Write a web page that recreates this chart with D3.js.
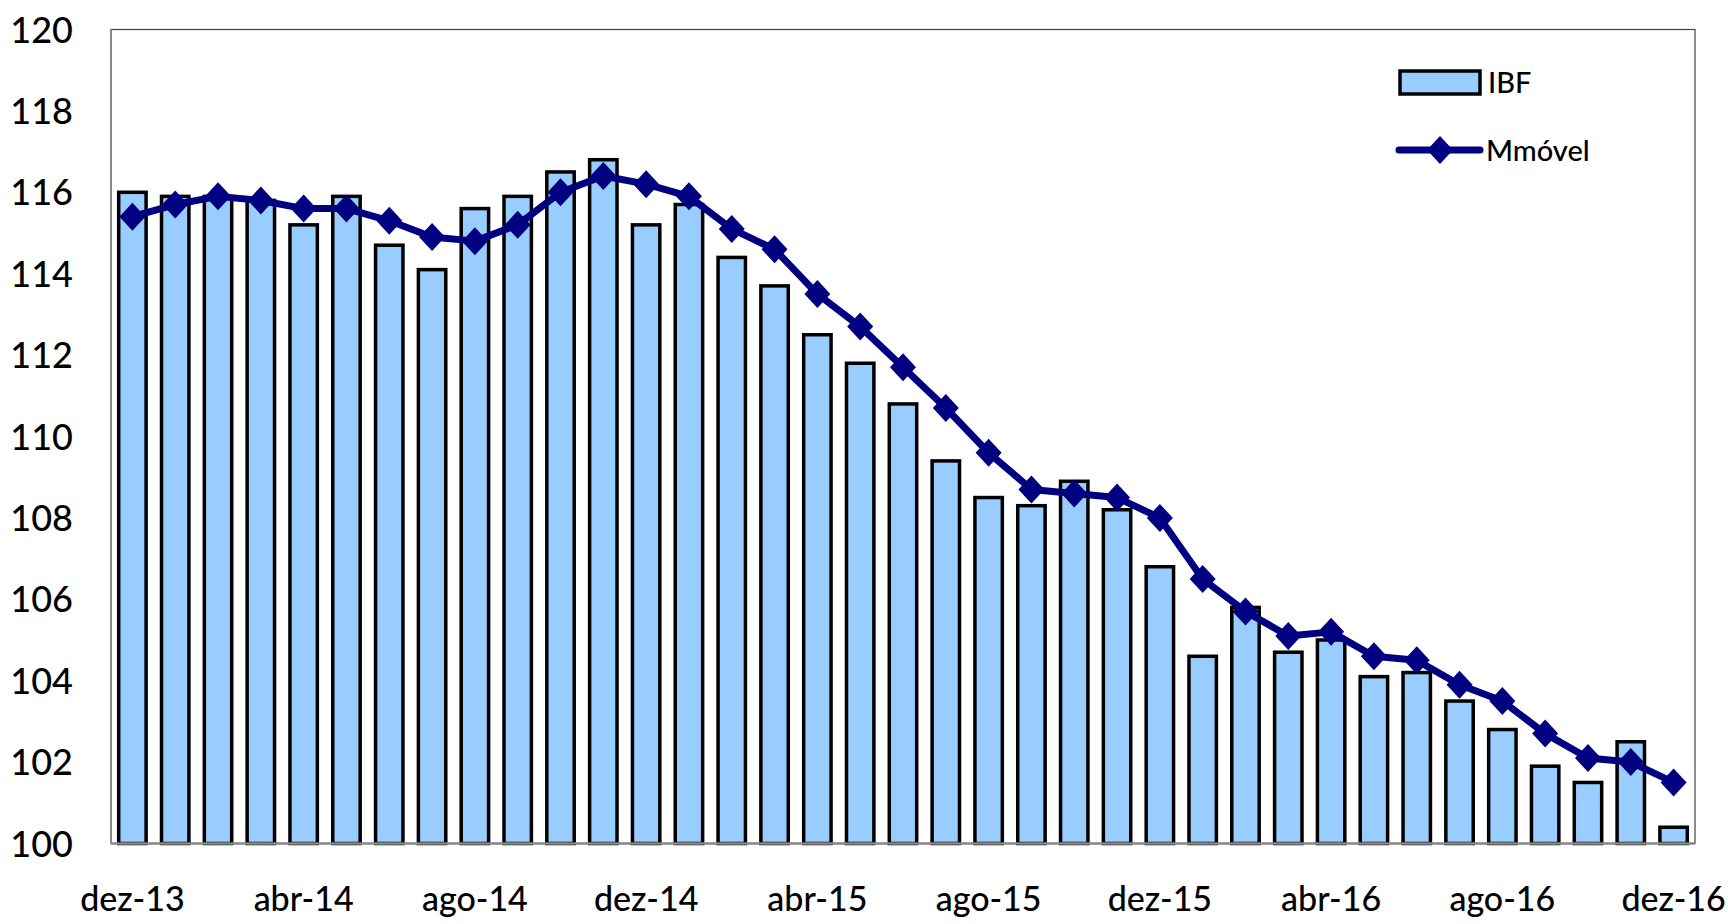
<!DOCTYPE html>
<html><head><meta charset="utf-8">
<script src="https://cdn.jsdelivr.net/npm/d3@7"></script>
<style>html,body{margin:0;padding:0;background:#fff;} svg{display:block;}</style>
</head><body>
<svg id="chart" width="1728" height="924"></svg>
<script>
const categories = ["dez-13","jan-14","fev-14","mar-14","abr-14","mai-14","jun-14","jul-14","ago-14","set-14","out-14","nov-14",
"dez-14","jan-15","fev-15","mar-15","abr-15","mai-15","jun-15","jul-15","ago-15","set-15","out-15","nov-15",
"dez-15","jan-16","fev-16","mar-16","abr-16","mai-16","jun-16","jul-16","ago-16","set-16","out-16","nov-16","dez-16"];
const ibf = [116.0,115.9,115.9,115.8,115.2,115.9,114.7,114.1,115.6,115.9,116.5,116.8,
115.2,115.7,114.4,113.7,112.5,111.8,110.8,109.4,108.5,108.3,108.9,108.2,
106.8,104.6,105.8,104.7,105.0,104.1,104.2,103.5,102.8,101.9,101.5,102.5,100.4];
const mmovel = [115.4,115.7,115.9,115.8,115.6,115.6,115.3,114.9,114.8,115.2,116.0,116.4,
116.2,115.9,115.1,114.6,113.5,112.7,111.7,110.7,109.6,108.7,108.6,108.5,
108.0,106.5,105.7,105.1,105.2,104.6,104.5,103.9,103.5,102.7,102.1,102.0,101.5];
const yTicks = [100,102,104,106,108,110,112,114,116,118,120];
const xTickLabels = ["dez-13","abr-14","ago-14","dez-14","abr-15","ago-15","dez-15","abr-16","ago-16","dez-16"];
const seriesNames = ["IBF","Mmóvel"];

const svg = d3.select("#chart");
const font = "Lato, 'Open Sans', sans-serif";
const L = 111, R = 1695, T = 29.5, B = 843.5;

const x = d3.scaleBand().domain(categories).range([L, R]).paddingInner(0.36).paddingOuter(0.18);
const y = d3.scaleLinear().domain([100, 120]).range([B, T]);

// plot border
svg.append("rect").attr("x", L).attr("y", T).attr("width", R - L).attr("height", B - T)
  .attr("fill", "none").attr("stroke", "#444").attr("stroke-width", 1.2);

// bars
svg.append("g").selectAll("rect").data(ibf).join("rect")
  .attr("x", (d, i) => x(categories[i]))
  .attr("y", d => y(d))
  .attr("width", x.bandwidth())
  .attr("height", d => y(100) - y(d))
  .attr("fill", "#99CCFF").attr("stroke", "#000").attr("stroke-width", 3.5);

// axes lines
svg.append("line").attr("x1", L).attr("x2", R).attr("y1", B).attr("y2", B).attr("stroke", "#888").attr("stroke-width", 2.5);
svg.append("line").attr("x1", L).attr("x2", L).attr("y1", T).attr("y2", B).attr("stroke", "#888").attr("stroke-width", 2);

// y axis labels
const yAxis = d3.axisLeft(y).tickValues(yTicks).tickSize(0).tickPadding(0);
const gy = svg.append("g").attr("transform", `translate(${L - 38},0)`).call(yAxis);
gy.select(".domain").remove();
gy.selectAll("text").attr("font-family", font).attr("font-size", 36).attr("font-weight", 500).attr("fill", "#000").attr("dy", "0.35em");

// x axis labels
const xAxis = d3.axisBottom(x).tickValues(xTickLabels).tickSize(0).tickPadding(0);
const gx = svg.append("g").attr("transform", `translate(0,${B + 43})`).call(xAxis);
gx.select(".domain").remove();
gx.selectAll("text").attr("font-family", font).attr("font-size", 34).attr("font-weight", 500).attr("fill", "#000").attr("dy", "0.71em");

// line
const cx = (i) => x(categories[i]) + x.bandwidth() / 2;
const line = d3.line().x((d, i) => cx(i)).y(d => y(d));
svg.append("path").datum(mmovel).attr("d", line)
  .attr("fill", "none").attr("stroke", "#000080").attr("stroke-width", 7).attr("stroke-linejoin", "round");
const diamond = "M0,-14L13,0L0,14L-13,0Z";
svg.append("g").selectAll("path").data(mmovel).join("path")
  .attr("d", diamond)
  .attr("transform", (d, i) => `translate(${cx(i)},${y(d)})`)
  .attr("fill", "#000080");

// legend
const lg = svg.append("g");
lg.append("rect").attr("x", 1400).attr("y", 71).attr("width", 80).attr("height", 23)
  .attr("fill", "#99CCFF").attr("stroke", "#000").attr("stroke-width", 3.5);
lg.append("text").attr("x", 1488).attr("y", 93).text(seriesNames[0])
  .attr("font-family", font).attr("font-size", 29).attr("font-weight", 500).attr("fill", "#000");
lg.append("line").attr("x1", 1399).attr("x2", 1480).attr("y1", 150).attr("y2", 150)
  .attr("stroke", "#000080").attr("stroke-width", 7).attr("stroke-linecap", "round");
lg.append("path").attr("d", diamond).attr("transform", "translate(1440,150)").attr("fill", "#000080");
lg.append("text").attr("x", 1486).attr("y", 161).text(seriesNames[1])
  .attr("font-family", font).attr("font-size", 29).attr("font-weight", 500).attr("fill", "#000");
</script>
</body></html>
